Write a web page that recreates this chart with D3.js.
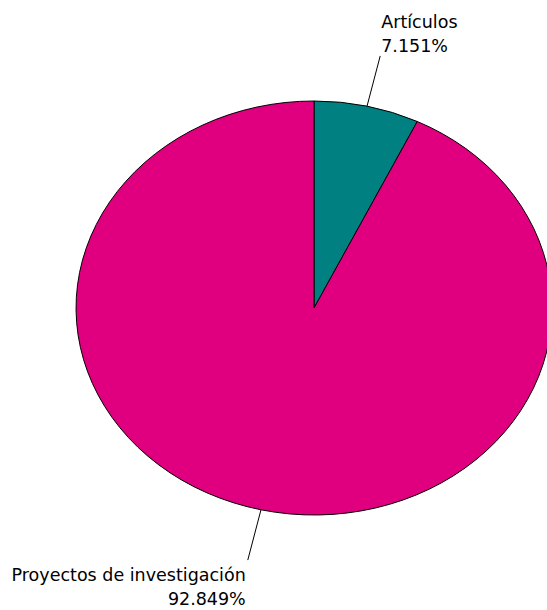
<!DOCTYPE html>
<html><head><meta charset="utf-8">
<script src="https://cdn.jsdelivr.net/npm/d3@7"></script>
<style>body{margin:0;background:#fff}svg{display:block}text{font-family:"DejaVu Sans",Verdana,sans-serif;font-size:17.5px;fill:#000}</style>
</head><body>
<script>
const categories = ["Artículos", "Proyectos de investigación"];
const values = [7.151, 92.849];
const colors = ["#008080", "#e0007f"];

const W = 547, H = 610;
const cx = 314, cy = 308, rx = 238, ry = 207;
const svg = d3.select("body").append("svg").attr("width", W).attr("height", H);

const pie = d3.pie().sort(null).value(d => d.v);
const data = categories.map((c, i) => ({c, v: values[i], col: colors[i]}));
const arcs = pie(data);
const arc = d3.arc().innerRadius(0).outerRadius(1);

const g = svg.append("g").attr("transform", `translate(${cx},${cy}) scale(${rx},${ry})`);
g.selectAll("path").data(arcs).join("path")
  .attr("d", arc)
  .attr("fill", d => d.data.col)
  .attr("stroke", "#000")
  .attr("stroke-width", 1)
  .attr("vector-effect", "non-scaling-stroke");

const L = 52;
arcs.forEach((a, i) => {
  const m = (a.startAngle + a.endAngle) / 2;
  const px = cx + rx * Math.sin(m), py = cy - ry * Math.cos(m);
  const dx = px - cx, dy = py - cy, n = Math.hypot(dx, dy);
  const ex = px + L * dx / n, ey = py + L * dy / n;
  svg.append("line").attr("x1", px).attr("y1", py).attr("x2", ex).attr("y2", ey)
    .attr("stroke", "#000").attr("stroke-width", 1);
  const top = ey < cy;
  const right = ex > cx;
  const t = svg.append("text")
    .attr("text-anchor", right ? "start" : "end");
  const tx = right ? ex + 1 : ex - 2;
  const y1 = top ? ey - 28 : ey + 21;
  t.append("tspan").attr("x", tx).attr("y", y1).text(a.data.c);
  t.append("tspan").attr("x", tx).attr("y", y1 + 24).text(d3.format(".3f")(a.data.v) + "%");
});
</script>
</body></html>
